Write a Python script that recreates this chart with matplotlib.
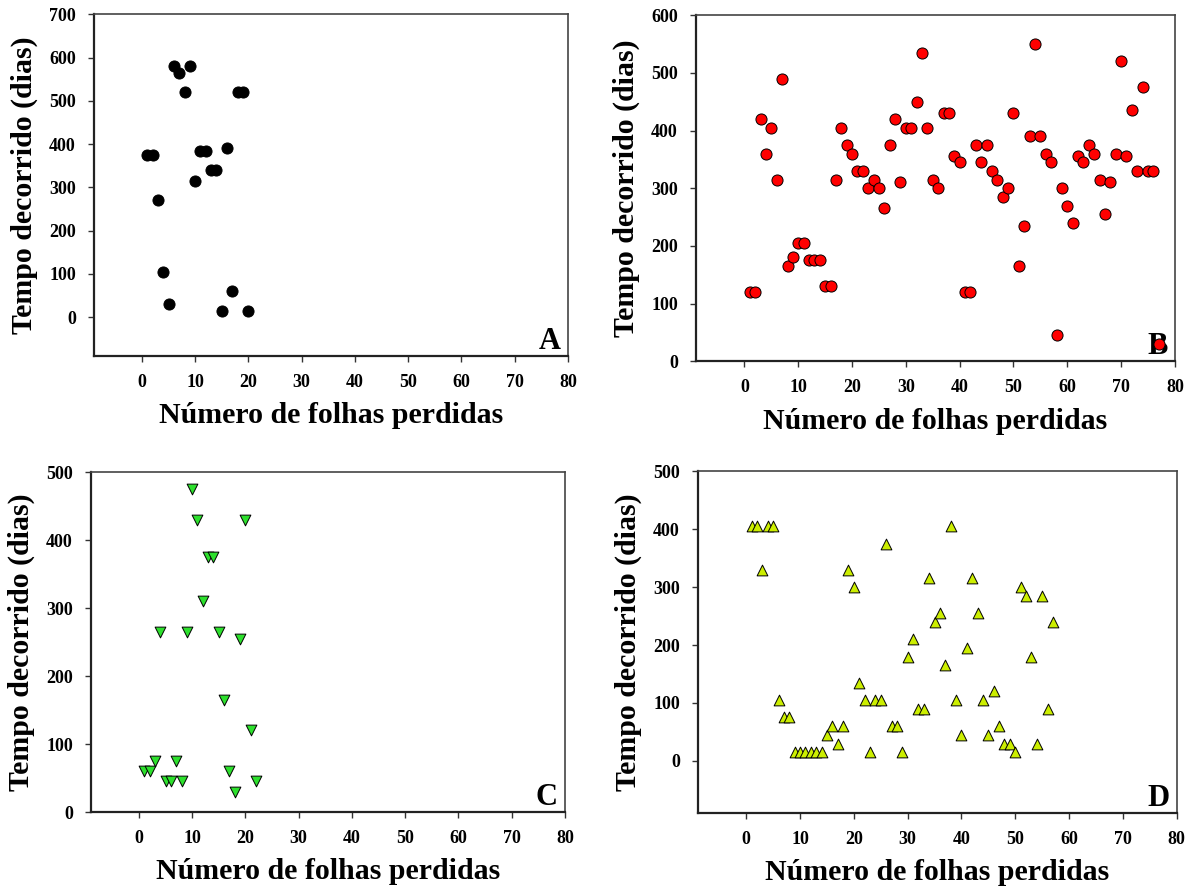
import matplotlib
matplotlib.use("Agg")
import matplotlib.pyplot as plt

plt.rcParams['font.family'] = ['Liberation Serif', 'DejaVu Serif']
plt.rcParams['font.weight'] = 'bold'

# painel A
a_x = [1, 2, 3, 4, 5, 6, 7, 8, 9, 10, 11, 12, 13, 14, 15, 16, 17, 18, 19, 20]
a_y = [375, 375, 270, 105, 30, 580, 565, 520, 580, 315, 385, 385, 340, 340, 15, 390, 60, 520, 520, 15]

# painel B
b_x = list(range(1, 78))
b_y = [120, 120, 420, 360, 405, 315, 490, 165, 180, 205,
       205, 175, 175, 175, 130, 130, 315, 405, 375, 360,
       330, 330, 300, 315, 300, 265, 375, 420, 310, 405,
       405, 450, 535, 405, 315, 300, 430, 430, 355, 345,
       120, 120, 375, 345, 375, 330, 315, 285, 300, 430,
       165, 235, 390, 550, 390, 360, 345, 45, 300, 270,
       240, 355, 345, 375, 360, 315, 255, 310, 360, 520,
       355, 435, 330, 475, 330, 330, 30]

# painel C
c_x = [1, 2, 3, 4, 5, 6, 7, 8, 9, 10, 11, 12, 13, 14, 15, 16, 17, 18, 19, 20, 21, 22]
c_y = [60, 60, 75, 265, 45, 45, 75, 45, 265, 475, 430, 310, 375, 375, 265, 165, 60, 30, 255, 430, 120, 45]

# painel D
d_x = list(range(1, 58))
d_y = [405, 405, 330, 405, 405, 105, 75, 75, 15, 15,
       15, 15, 15, 15, 45, 60, 30, 60, 330, 300,
       135, 105, 15, 105, 105, 375, 60, 60, 15, 180,
       210, 90, 90, 315, 240, 255, 165, 405, 105, 45,
       195, 315, 255, 105, 45, 120, 60, 30, 30, 15,
       300, 285, 180, 30, 285, 90, 240]

xticks = [0, 10, 20, 30, 40, 50, 60, 70, 80]

fig = plt.figure(figsize=(11.97, 8.90), dpi=100)

paineis = [
    ([0.0785, 0.600, 0.396, 0.384], a_x, a_y, 'o', 'black', 'black', (-90, 700), [0, 100, 200, 300, 400, 500, 600, 700], 'A'),
    ([0.5815, 0.594, 0.400, 0.389], b_x, b_y, 'o', '#ff0000', 'black', (0, 600), [0, 100, 200, 300, 400, 500, 600], 'B'),
    ([0.076, 0.0876, 0.396, 0.382], c_x, c_y, 'v', '#2de02d', 'black', (0, 500), [0, 100, 200, 300, 400, 500], 'C'),
    ([0.583, 0.0865, 0.400, 0.384], d_x, d_y, '^', '#ccee00', 'black', (-90, 500), [0, 100, 200, 300, 400, 500], 'D'),
]

for pos, xs, ys, mk, cor, borda, ylim, yticks, letra in paineis:
    ax = fig.add_axes(pos)
    ax.scatter(xs, ys, marker=mk, s=64 if mk == 'o' else 60, c=cor, edgecolors=borda,
               linewidths=0.7, zorder=3)
    ax.set_xlim(-9, 80)
    ax.set_ylim(*ylim)
    ax.set_xticks(xticks)
    ax.set_yticks(yticks)
    ax.tick_params(direction='out', length=4, width=1, labelsize=13, color='#333333')
    ax.tick_params(axis='x', pad=9)
    ax.tick_params(axis='y', pad=9)
    for lab in ax.get_xticklabels() + ax.get_yticklabels():
        lab.set_fontweight('bold')
    for s in ['left', 'bottom']:
        ax.spines[s].set_linewidth(1.6)
        ax.spines[s].set_color('#222222')
    for s in ['top', 'right']:
        ax.spines[s].set_linewidth(1.2)
        ax.spines[s].set_color('#444444')
    ax.set_xlabel('Número de folhas perdidas', fontsize=21.5, fontweight='bold', labelpad=8)
    ax.set_ylabel('Tempo decorrido (dias)', fontsize=21.5, fontweight='bold', labelpad=8)
    # letra do painel fica por baixo dos pontos
    ax.text(0.985, 0.0, letra, transform=ax.transAxes, ha='right', va='bottom',
            fontsize=22, fontweight='bold', zorder=1)

fig.savefig('out.png', dpi=100)
